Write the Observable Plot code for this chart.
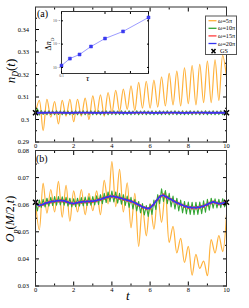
<!DOCTYPE html>
<html><head><meta charset="utf-8">
<script src="https://cdn.jsdelivr.net/npm/d3@7"></script>
<script src="https://cdn.jsdelivr.net/npm/@observablehq/plot@0.6"></script>
<style>
body{margin:0;background:#fff;}
#wrap{position:relative;width:249px;height:308px;overflow:hidden;font-family:"Liberation Serif","DejaVu Serif",serif;color:#000;}
#wrap svg{position:absolute;overflow:visible;background:transparent;}
.ov{position:absolute;white-space:nowrap;line-height:1;}
.rot{transform:translate(-50%,-50%) rotate(-90deg);}
</style></head><body><div id="wrap"></div>
<script>
// ---------- data ----------
const seriesNames = ["ω=5π", "ω=10π", "ω=15π", "ω=20π", "GS"];
const seriesColors = ["#ffb23c", "#33a533", "#ff3d3d", "#3535f0", "#000000"];
const xTicks = [0, 2, 4, 6, 8, 10];
const xMinor = [1, 3, 5, 7, 9];
const yTicksA = [0.29, 0.30, 0.31, 0.32, 0.33, 0.34];
const yMinorA = [0.295, 0.305, 0.315, 0.325, 0.335, 0.345];
const yTicksB = [0.03, 0.04, 0.05, 0.06, 0.07, 0.08];
const yMinorB = [0.035, 0.045, 0.055, 0.065, 0.075];
const gsT = [0, 10];
const gsA = [0.3030, 0.3030];
const gsB = [0.0609, 0.0609];

// panel (a): n_D(t)
const orangeA = [0.3030,0.3085,0.2950,0.3090,0.3010,0.3080,0.2980,0.3085,0.3015,0.3090,
 0.2990,0.3090,0.3015,0.3095,0.3000,0.3105,0.3020,0.3110,0.3015,0.3120,
 0.3030,0.3130,0.3035,0.3135,0.3045,0.3150,0.3040,0.3165,0.3050,0.3170,
 0.3050,0.3175,0.3055,0.3190,0.3060,0.3205,0.3065,0.3215,0.3060,0.3230,
 0.3070,0.3240,0.3065,0.3245,0.3075,0.3260,0.3075,0.3265,0.3085,0.3285,
 0.3190]; // step 0.2
const greenA = [0.3030,0.3048,0.3020,0.3040,0.3022,0.3038,0.3021,0.3039,0.3022,0.3038,
 0.3021,0.3039,0.3022,0.3038,0.3021,0.3039,0.3022,0.3038,0.3021,0.3038,
 0.3022,0.3039,0.3021,0.3038,0.3022,0.3039,0.3021,0.3038,0.3022,0.3039,
 0.3021,0.3038,0.3022,0.3039,0.3021,0.3038,0.3022,0.3039,0.3021,0.3038,
 0.3022,0.3039,0.3021,0.3038,0.3022,0.3039,0.3021,0.3038,0.3022,0.3039,
 0.3021,0.3038,0.3022,0.3039,0.3021,0.3038,0.3022,0.3039,0.3021,0.3038,
 0.3022,0.3039,0.3021,0.3038,0.3022,0.3039,0.3021,0.3038,0.3022,0.3039,
 0.3021,0.3038,0.3022,0.3039,0.3021,0.3038,0.3022,0.3039,0.3021,0.3038,
 0.3022,0.3039,0.3021,0.3038,0.3022,0.3039,0.3021,0.3038,0.3022,0.3039,
 0.3021,0.3038,0.3022,0.3039,0.3021,0.3038,0.3022,0.3039,0.3021,0.3038,
 0.3030]; // step 0.1
const redA = [0.3030,0.3034,0.3026,0.3033,0.3027,0.3033,0.3027,0.3033,0.3027,0.3033,
 0.3027,0.3033,0.3027,0.3033,0.3027,0.3033,0.3027,0.3033,0.3027,0.3033,
 0.3027,0.3033,0.3027,0.3033,0.3027,0.3033,0.3027,0.3033,0.3027,0.3033,
 0.3027,0.3033,0.3027,0.3033,0.3027,0.3033,0.3027,0.3033,0.3027,0.3033,
 0.3027,0.3033,0.3027,0.3033,0.3027,0.3033,0.3027,0.3033,0.3027,0.3033,
 0.3027,0.3033,0.3027,0.3033,0.3027,0.3033,0.3027,0.3033,0.3027,0.3033,
 0.3027,0.3033,0.3027,0.3033,0.3027,0.3033,0.3027,0.3033,0.3027,0.3033,
 0.3027,0.3033,0.3027,0.3033,0.3027,0.3033,0.3027,0.3033,0.3027,0.3033,
 0.3027,0.3033,0.3027,0.3033,0.3027,0.3033,0.3027,0.3033,0.3027,0.3033,
 0.3027,0.3033,0.3027,0.3033,0.3027,0.3033,0.3027,0.3033,0.3027,0.3033,
 0.3030]; // step 0.1
const blueA = [0.3030,0.3030,0.3031,0.3030,0.3030,0.3031,0.3030,0.3030,0.3031,0.3030,
 0.3030,0.3031,0.3030,0.3030,0.3031,0.3030,0.3030,0.3031,0.3030,0.3030,0.3030]; // step 0.5

// panel (b): O_p(M/2,t)
const orangeB = [0.0609,0.0507,0.0680,0.0569,0.0656,0.0573,0.0686,0.0554,0.0671,0.0539,
 0.0651,0.0573,0.0656,0.0563,0.0642,0.0578,0.0651,0.0563,0.0690,0.0603,
 0.0759,0.0593,0.0730,0.0573,0.0681,0.0515,0.0642,0.0446,0.0593,0.0485,
 0.0603,0.0510,0.0632,0.0535,0.0651,0.0461,0.0520,0.0422,0.0476,0.0387,
 0.0446,0.0340,0.0417,0.0365,0.0392,0.0338,0.0471,0.0422,0.0486,0.0427,
 0.0563]; // step 0.2
const greenB = [0.0609,
 0.0577,0.0617,0.0590,0.0620,0.0592,0.0624,0.0595,0.0627,0.0597,
 0.0630,0.0598,0.0630,0.0599,0.0629,0.0598,0.0627,0.0595,0.0624,0.0592,
 0.0622,0.0593,0.0624,0.0595,0.0626,0.0596,0.0628,0.0597,0.0629,0.0598,
 0.0630,0.0599,0.0633,0.0601,0.0637,0.0604,0.0642,0.0608,0.0647,0.0611,
 0.0650,0.0610,0.0647,0.0606,0.0642,0.0602,0.0637,0.0597,0.0632,0.0590,
 0.0627,0.0584,0.0620,0.0577,0.0612,0.0570,0.0604,0.0562,0.0597,0.0557,
 0.0602,0.0564,0.0617,0.0582,0.0637,0.0604,0.0659,0.0612,0.0652,0.0604,
 0.0642,0.0592,0.0632,0.0584,0.0624,0.0577,0.0617,0.0570,0.0612,0.0566,
 0.0610,0.0564,0.0609,0.0563,0.0609,0.0564,0.0610,0.0567,0.0614,0.0572,
 0.0620,0.0580,0.0624,0.0587,0.0622,0.0588,0.0620,0.0589,0.0622,0.0592,
 0.0609]; // step 0.1
const redB = [0.0609,
 0.0605,0.0593,0.0603,0.0597,0.0609,0.0602,0.0613,0.0606,0.0616,
 0.0608,0.0618,0.0610,0.0619,0.0610,0.0618,0.0607,0.0613,0.0602,0.0609,
 0.0600,0.0610,0.0603,0.0613,0.0605,0.0615,0.0606,0.0616,0.0607,0.0617,
 0.0608,0.0618,0.0611,0.0622,0.0615,0.0626,0.0620,0.0631,0.0624,0.0635,
 0.0626,0.0634,0.0624,0.0631,0.0620,0.0627,0.0616,0.0623,0.0612,0.0619,
 0.0608,0.0614,0.0602,0.0607,0.0595,0.0600,0.0587,0.0593,0.0582,0.0590,
 0.0584,0.0599,0.0598,0.0616,0.0616,0.0633,0.0629,0.0640,0.0626,0.0631,
 0.0618,0.0623,0.0610,0.0615,0.0602,0.0608,0.0596,0.0602,0.0590,0.0597,
 0.0586,0.0594,0.0584,0.0593,0.0584,0.0594,0.0586,0.0597,0.0590,0.0602,
 0.0596,0.0609,0.0603,0.0614,0.0604,0.0610,0.0599,0.0608,0.0601,0.0612,
 0.0610]; // step 0.1
const blueB = [0.0609,
 0.0601,0.0598,0.0599,0.0602,0.0605,0.0607,0.0609,0.0611,0.0612,
 0.0613,0.0614,0.0615,0.0615,0.0615,0.0614,0.0612,0.0609,0.0607,0.0605,
 0.0605,0.0606,0.0608,0.0609,0.0610,0.0611,0.0611,0.0612,0.0612,0.0613,
 0.0613,0.0614,0.0616,0.0618,0.0620,0.0622,0.0625,0.0627,0.0629,0.0631,
 0.0631,0.0630,0.0629,0.0627,0.0625,0.0623,0.0621,0.0619,0.0617,0.0615,
 0.0613,0.0610,0.0607,0.0603,0.0600,0.0596,0.0592,0.0589,0.0587,0.0586,
 0.0589,0.0595,0.0603,0.0612,0.0621,0.0629,0.0634,0.0634,0.0631,0.0627,
 0.0623,0.0619,0.0615,0.0611,0.0607,0.0604,0.0601,0.0598,0.0595,0.0593,
 0.0591,0.0590,0.0589,0.0589,0.0589,0.0590,0.0591,0.0593,0.0595,0.0598,
 0.0601,0.0605,0.0608,0.0610,0.0609,0.0606,0.0604,0.0604,0.0606,0.0608,
 0.0609]; // step 0.1

// inset: Δn_D vs τ (log-log)
const tau = [0.1, 0.1143, 0.1333, 0.16, 0.2, 0.2667, 0.4];
const deltaN = [1.2e-4, 2.4e-4, 3.6e-4, 7.9e-4, 1.74e-3, 3.5e-3, 1.39e-2];
const insetXTicks = [0.1, 0.2, 0.3, 0.4];
const insetYTicks = [1e-4, 1e-3, 1e-2];
const insetYLabels = ["10⁻⁴", "10⁻³", "10⁻²"];

// ---------- helpers ----------
const rows = (vals, step) => vals.map((v, i) => ({t: +(i * step).toFixed(3), v}));
const gsRows = (vals) => vals.map((v, i) => ({t: gsT[i], v}));
const blank = () => "";
const fmt = d => String(+d.toFixed(3));
const FONT = "Liberation Serif, DejaVu Serif, serif";

function axes(yT, yM) {
  return [
    Plot.axisX(xTicks, {anchor: "bottom", tickSize: -4, tickPadding: 5, tickFormat: d => d, label: null, fontSize: 6.5}),
    Plot.axisX(xMinor, {anchor: "bottom", tickSize: -2, tickFormat: blank, label: null}),
    Plot.axisX(xTicks, {anchor: "top", tickSize: -4, tickFormat: blank, label: null}),
    Plot.axisX(xMinor, {anchor: "top", tickSize: -2, tickFormat: blank, label: null}),
    Plot.axisY(yT, {anchor: "left", tickSize: -4, tickPadding: 10.5, tickFormat: fmt, label: null, fontSize: 6.5}),
    Plot.axisY(yM, {anchor: "left", tickSize: -2, tickFormat: blank, label: null}),
    Plot.axisY(yT, {anchor: "right", tickSize: -4, tickFormat: blank, label: null}),
    Plot.axisY(yM, {anchor: "right", tickSize: -2, tickFormat: blank, label: null}),
    Plot.frame({stroke: "#333", strokeWidth: 1})
  ];
}

function seriesMarks(o, g, r, b, gs, steps) {
  return [
    Plot.line(rows(o, steps[0]), {x: "t", y: "v", stroke: seriesColors[0], strokeWidth: 1.2, curve: "catmull-rom", clip: true}),
    Plot.line(rows(g, steps[1]), {x: "t", y: "v", stroke: seriesColors[1], strokeWidth: 1.1, clip: true}),
    Plot.line(rows(r, steps[2]), {x: "t", y: "v", stroke: seriesColors[2], strokeWidth: 1.3, clip: true}),
    Plot.line(rows(b, steps[3]), {x: "t", y: "v", stroke: seriesColors[3], strokeWidth: 1.8, curve: "catmull-rom", clip: true}),
    Plot.dot(gsRows(gs), {x: "t", y: "v", symbol: "times", r: 2.4, stroke: "#000", strokeWidth: 1.5})
  ];
}

const wrap = document.getElementById("wrap");

const pa = Plot.plot({
  width: 249, height: 150,
  marginLeft: 35, marginRight: 23, marginTop: 6.5, marginBottom: 8.5,
  x: {domain: [0, 10]},
  y: {domain: [0.29, 0.35]},
  style: {fontFamily: FONT, color: "#000", background: "transparent"},
  marks: [
    ...seriesMarks(orangeA, greenA, redA, blueA, gsA, [0.2, 0.1, 0.1, 0.5]),
    ...axes(yTicksA, yMinorA)
  ]
});
pa.style.left = "0px"; pa.style.top = "0px";
wrap.appendChild(pa);

const pb = Plot.plot({
  width: 249, height: 165,
  marginLeft: 35, marginRight: 23, marginTop: 7, marginBottom: 22.5,
  x: {domain: [0, 10]},
  y: {domain: [0.03, 0.08]},
  style: {fontFamily: FONT, color: "#000", background: "transparent"},
  marks: [
    ...seriesMarks(orangeB, greenB, redB, blueB, gsB, [0.2, 0.1, 0.1, 0.1]),
    ...axes(yTicksB, yMinorB)
  ]
});
pb.style.left = "0px"; pb.style.top = "143px";
wrap.appendChild(pb);

const insetData = tau.map((t, i) => ({tau: t, d: deltaN[i]}));
const pi = Plot.plot({
  width: 112, height: 84,
  marginLeft: 21, marginRight: 4, marginTop: 7, marginBottom: 15,
  x: {type: "log", domain: [0.1, 0.4]},
  y: {type: "log", domain: [5.5e-5, 0.0251]},
  style: {fontFamily: FONT, color: "#000", background: "transparent"},
  marks: [
    Plot.frame({fill: "#fff", stroke: "#333"}),
    Plot.line(insetData, {x: "tau", y: "d", stroke: "#9c9cff", strokeWidth: 1}),
    Plot.dot(insetData, {x: "tau", y: "d", symbol: "square", r: 1.7, fill: "#3a3af0", stroke: "#3a3af0", strokeWidth: 0.5}),
    Plot.axisX(insetXTicks, {anchor: "bottom", tickSize: -2, tickPadding: 2.3, tickFormat: fmt, label: null, fontSize: 3.8, fill: "#444"}),
    Plot.axisX(insetXTicks, {anchor: "top", tickSize: -2, tickFormat: blank, label: null}),
    Plot.axisY(insetYTicks, {anchor: "left", tickSize: -2, tickPadding: 3.5, tickFormat: d => insetYLabels[insetYTicks.indexOf(d)], label: null, fontSize: 3.8, fill: "#444"}),
    Plot.axisY(insetYTicks, {anchor: "right", tickSize: -2, tickFormat: blank, label: null})
  ]
});
pi.style.left = "40px"; pi.style.top = "4px";
wrap.appendChild(pi);

// ---------- text overlays ----------
function ov(html, css, cls = "ov") {
  const d = document.createElement("div");
  d.className = cls;
  d.innerHTML = html;
  Object.assign(d.style, css);
  wrap.appendChild(d);
  return d;
}
ov("(a)", {left: "37px", top: "9px", fontSize: "10px"});
ov("(b)", {left: "36px", top: "154px", fontSize: "10px"});
ov('<i>n</i><sub style="font-size:8px;font-style:italic">D</sub>(<i>t</i>)', {left: "12px", top: "71px", fontSize: "13px"}, "ov rot");
ov('<i>O</i><sub style="font-size:8px;font-style:italic">p</sub>(<i>M</i>/2,<i>t</i>)', {left: "12px", top: "219px", fontSize: "12px"}, "ov rot");
ov("<i>t</i>", {left: "126px", top: "289px", fontSize: "13px"});
ov("<i>τ</i>", {left: "86px", top: "74px", fontSize: "9px"});
ov('Δ<i>n</i><sub style="font-size:5px;font-style:italic">D</sub>', {left: "50px", top: "44px", fontSize: "8px"}, "ov rot");

// ---------- legend (svg) ----------
const lg = d3.create("svg").attr("width", 34).attr("height", 40)
  .style("left", "204px").style("top", "15px");
lg.append("rect").attr("x", 1.5).attr("y", 1).attr("width", 31).attr("height", 38.5)
  .attr("fill", "#fff").attr("stroke", "#555").attr("stroke-width", 1);
seriesNames.forEach((name, i) => {
  const y = 5.7 + i * 7.6;
  if (name === "GS") {
    lg.append("path").attr("d", `M${7.5},${y - 2.2}L${11.5},${y + 2.2}M${7.5},${y + 2.2}L${11.5},${y - 2.2}`)
      .attr("stroke", "#000").attr("stroke-width", 1.5);
  } else {
    lg.append("line").attr("x1", 4.5).attr("x2", 12.5).attr("y1", y).attr("y2", y)
      .attr("stroke", seriesColors[i]).attr("stroke-width", 1.3);
  }
  const tx = lg.append("text").attr("x", name === "GS" ? 16 : 14).attr("y", y).attr("dy", "0.35em")
    .attr("font-family", FONT).attr("font-size", 6.2).attr("fill", "#000");
  if (name.startsWith("ω")) {
    tx.append("tspan").attr("font-style", "italic").text("ω");
    tx.append("tspan").text(name.slice(1));
  } else {
    tx.text(name);
  }
});
wrap.appendChild(lg.node());
</script></body></html>
